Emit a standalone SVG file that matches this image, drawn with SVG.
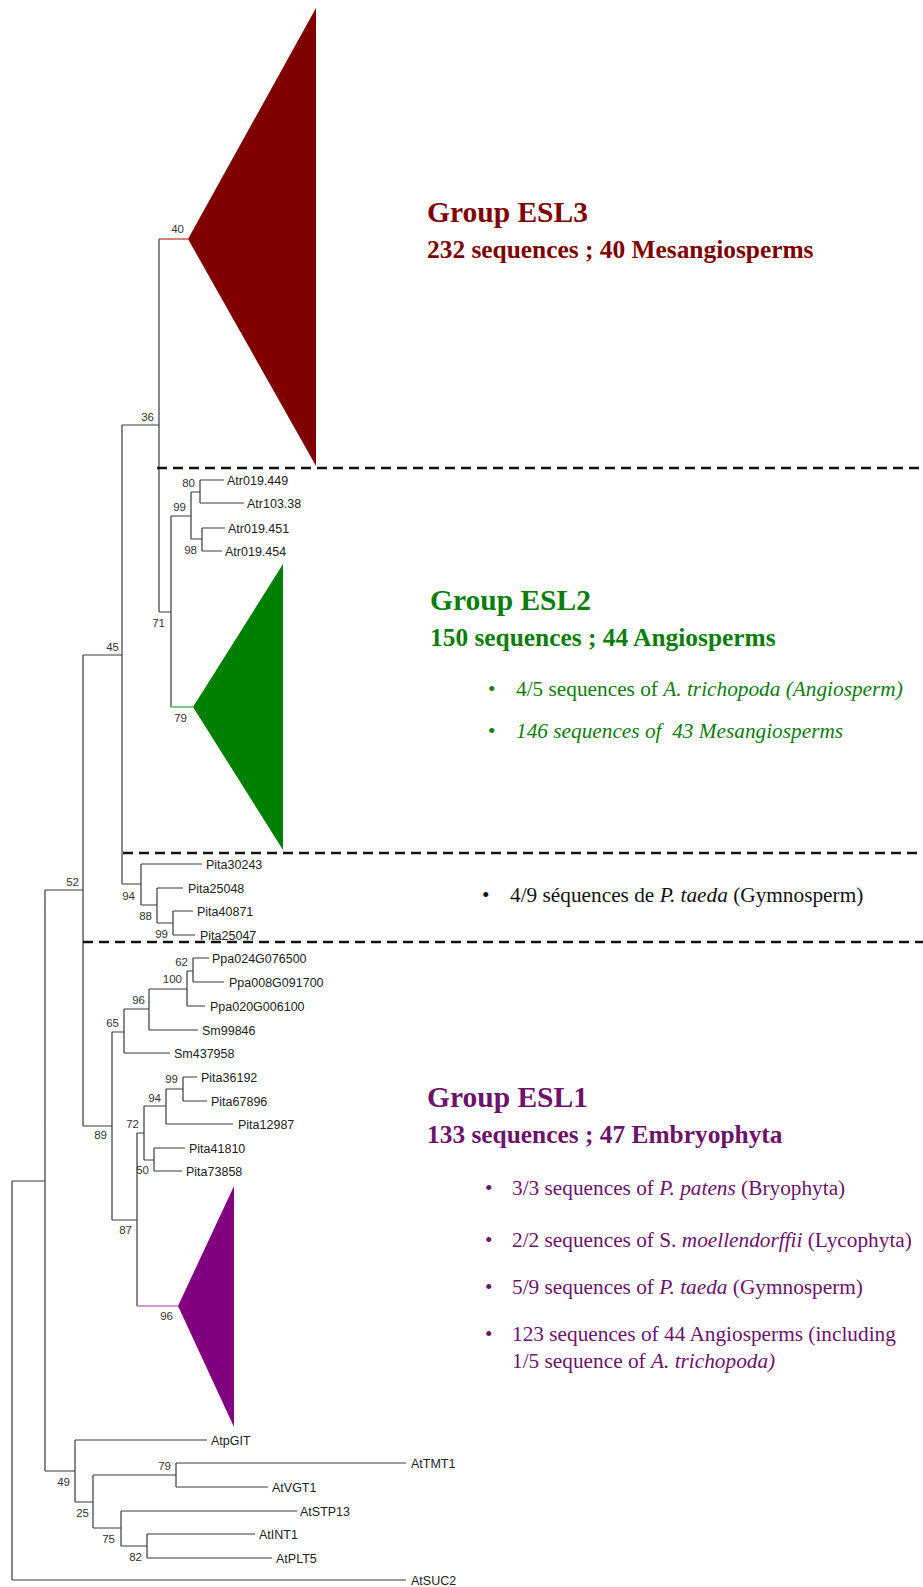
<svg xmlns="http://www.w3.org/2000/svg" width="923" height="1587" viewBox="0 0 923 1587">
<style>
.br{fill:none;stroke:#3a3a3a;stroke-width:1.2}
.leaf{font-family:"Liberation Sans",Arial,sans-serif;font-size:12.5px;fill:#222}
.bs{font-family:"Liberation Sans",Arial,sans-serif;font-size:11.5px;fill:#333;text-anchor:end}
.dash{stroke:#111;stroke-width:2.6;stroke-dasharray:10 6;fill:none}
.h{font-family:"Liberation Serif","Times New Roman",serif;font-weight:bold;font-size:29.5px}
.s{font-family:"Liberation Serif","Times New Roman",serif;font-weight:bold;font-size:25.4px}
.b{font-family:"Liberation Serif","Times New Roman",serif;font-size:21.3px}
.i{font-style:italic}
</style>
<rect width="923" height="1587" fill="#ffffff"/>
<g id="connectors">
<path class="br" d="M12,1181V1580M12,1181H45M12,1580H406
M45,890V1471M45,890H83M45,1471H75
M83,655V1126M83,655H122M83,1126H112
M122,425V884M122,425H159M122,884H141
M159,239V612M159,612H171
M171,516V707M171,516H191
M191,492V539M191,492H200M191,539H202
M200,480V503M200,480H224M200,503H244
M202,528V551M202,528H225M202,551H222
M141,864V905M141,864H202M141,905H157
M157,888V923M157,888H183M157,923H173
M173,911V935M173,911H193M173,935H195
M112,1032V1220M112,1032H124M112,1220H137
M124,1009V1053M124,1009H149M124,1053H170
M149,989V1030M149,989H187M149,1030H198
M187,971V1006M187,971H193M187,1006H205
M193,958V982M193,958H209M193,982H224
M137,1133V1306M137,1133H144
M144,1106V1160M144,1106H166M144,1160H154
M166,1089V1124M166,1089H183M166,1124H233
M183,1077V1101M183,1077H197M183,1101H207
M154,1148V1171M154,1148H185M154,1171H182
M75,1440V1502M75,1440H207M75,1502H93
M93,1475V1528M93,1475H176M93,1528H121
M176,1463V1487M176,1463H406M176,1487H268
M121,1511V1546M121,1511H297M121,1546H147
M147,1534V1558M147,1534H255M147,1558H272"/>
<path d="M159,239H188" stroke="#c84a4a" stroke-width="1.4" fill="none"/>
<path d="M171,707H193" stroke="#4caf50" stroke-width="1.4" fill="none"/>
<path d="M137,1306H178" stroke="#c27ac2" stroke-width="1.4" fill="none"/>
</g>
<g id="separators">
<path class="dash" d="M157,468H923"/>
<path class="dash" d="M123,853H923"/>
<path class="dash" d="M83,942H923"/>
</g>
<g id="clade-esl3">
<polygon points="188,239 316,8 316,466" fill="#800000"/>
</g>
<g id="clade-esl2">
<polygon points="193,707 283,564 283,850" fill="#008000"/>
</g>
<g id="clade-esl1">
<polygon points="178,1306 234,1186 234,1427" fill="#800080"/>
</g>
<g id="leaves">
<text class="leaf" x="227" y="484.5">Atr019.449</text>
<text class="leaf" x="247" y="507.5">Atr103.38</text>
<text class="leaf" x="228" y="532.5">Atr019.451</text>
<text class="leaf" x="225" y="555.5">Atr019.454</text>
<text class="leaf" x="206" y="868.5">Pita30243</text>
<text class="leaf" x="188" y="892.5">Pita25048</text>
<text class="leaf" x="197" y="915.5">Pita40871</text>
<text class="leaf" x="200" y="939.5">Pita25047</text>
<text class="leaf" x="212" y="962.5">Ppa024G076500</text>
<text class="leaf" x="229" y="986.5">Ppa008G091700</text>
<text class="leaf" x="210" y="1010.5">Ppa020G006100</text>
<text class="leaf" x="202" y="1034.5">Sm99846</text>
<text class="leaf" x="174" y="1057.5">Sm437958</text>
<text class="leaf" x="201" y="1081.5">Pita36192</text>
<text class="leaf" x="211" y="1105.5">Pita67896</text>
<text class="leaf" x="238" y="1128.5">Pita12987</text>
<text class="leaf" x="189" y="1152.5">Pita41810</text>
<text class="leaf" x="186" y="1175.5">Pita73858</text>
<text class="leaf" x="211" y="1444.5">AtpGIT</text>
<text class="leaf" x="411" y="1467.5">AtTMT1</text>
<text class="leaf" x="272" y="1491.5">AtVGT1</text>
<text class="leaf" x="300" y="1515.5">AtSTP13</text>
<text class="leaf" x="259" y="1538.5">AtINT1</text>
<text class="leaf" x="276" y="1562.5">AtPLT5</text>
<text class="leaf" x="411" y="1584.5">AtSUC2</text>
</g>
<g id="bootstrap">
<text class="bs" x="184" y="233">40</text>
<text class="bs" x="154" y="421">36</text>
<text class="bs" x="119" y="651">45</text>
<text class="bs" x="165" y="627">71</text>
<text class="bs" x="186" y="511">99</text>
<text class="bs" x="195" y="487">80</text>
<text class="bs" x="197" y="554">98</text>
<text class="bs" x="187" y="722">79</text>
<text class="bs" x="79" y="886">52</text>
<text class="bs" x="135" y="900">94</text>
<text class="bs" x="152" y="920">88</text>
<text class="bs" x="168" y="938">99</text>
<text class="bs" x="188" y="966">62</text>
<text class="bs" x="182" y="983">100</text>
<text class="bs" x="145" y="1004">96</text>
<text class="bs" x="119" y="1027">65</text>
<text class="bs" x="178" y="1083">99</text>
<text class="bs" x="161" y="1102">94</text>
<text class="bs" x="139" y="1128">72</text>
<text class="bs" x="107" y="1139">89</text>
<text class="bs" x="149" y="1174">50</text>
<text class="bs" x="132" y="1234">87</text>
<text class="bs" x="173" y="1320">96</text>
<text class="bs" x="171" y="1470">79</text>
<text class="bs" x="70" y="1486">49</text>
<text class="bs" x="89" y="1517">25</text>
<text class="bs" x="115" y="1543">75</text>
<text class="bs" x="142" y="1561">82</text>
</g>
<g id="label-esl3" fill="#7f0000">
<text class="h" x="427" y="222">Group ESL3</text>
<text class="s" x="427" y="258">232 sequences ; 40 Mesangiosperms</text>
</g>
<g id="label-esl2" fill="#0b7d0b">
<text class="h" x="430" y="610">Group ESL2</text>
<text class="s" x="430" y="646">150 sequences ; 44 Angiosperms</text>
<text class="b" x="488" y="696">•</text>
<text class="b" x="516" y="696">4/5 sequences of <tspan class="i">A. trichopoda (Angiosperm)</tspan></text>
<text class="b" x="488" y="738">•</text>
<text class="b i" x="516" y="738">146 sequences of &#160;43 Mesangiosperms</text>
</g>
<g id="label-pita" fill="#111">
<text class="b" x="482" y="902">•</text>
<text class="b" x="510" y="902">4/9 séquences de <tspan class="i">P. taeda</tspan> (Gymnosperm)</text>
</g>
<g id="label-esl1" fill="#6d126b">
<text class="h" x="427" y="1107">Group ESL1</text>
<text class="s" x="427" y="1143">133 sequences ; 47 Embryophyta</text>
<text class="b" x="485" y="1195">•</text>
<text class="b" x="512" y="1195">3/3 sequences of <tspan class="i">P. patens</tspan> (Bryophyta)</text>
<text class="b" x="485" y="1247">•</text>
<text class="b" x="512" y="1247">2/2 sequences of S. <tspan class="i">moellendorffii</tspan> (Lycophyta)</text>
<text class="b" x="485" y="1294">•</text>
<text class="b" x="512" y="1294">5/9 sequences of <tspan class="i">P. taeda</tspan> (Gymnosperm)</text>
<text class="b" x="485" y="1341">•</text>
<text class="b" x="512" y="1341">123 sequences of 44 Angiosperms (including</text>
<text class="b" x="512" y="1368">1/5 sequence of <tspan class="i">A. trichopoda)</tspan></text>
</g>
</svg>
